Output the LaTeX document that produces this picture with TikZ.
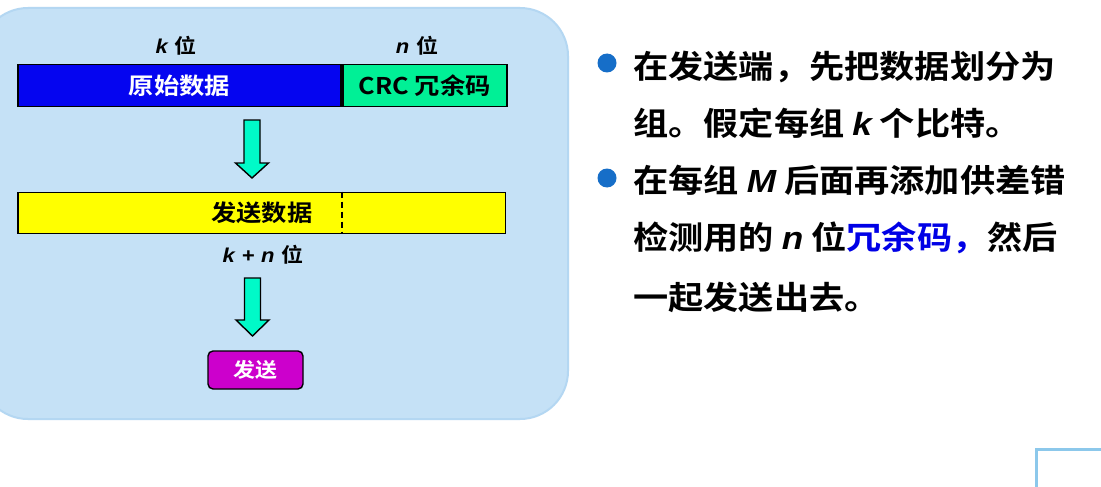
\documentclass[tikz,border=0pt]{standalone}
\usepackage{fontspec}
\newfontfamily\cjkfont{Noto Sans CJK SC}[BoldFont={Noto Sans CJK SC Bold}, FakeStretch=1.1]
\newfontfamily\latfont{Liberation Sans}[FakeStretch=1.1]
\usetikzlibrary{positioning, calc}

\definecolor{panelblue}{RGB}{197,225,246}
\definecolor{paneledge}{RGB}{180,215,242}
\definecolor{datablue}{RGB}{5,5,240}
\definecolor{crcgreen}{RGB}{0,240,150}
\definecolor{sendyellow}{RGB}{255,255,0}
\definecolor{sendmagenta}{RGB}{204,0,204}
\definecolor{arrowcyan}{RGB}{0,250,200}
\definecolor{dotblue}{RGB}{22,110,200}
\definecolor{textblue}{RGB}{0,0,230}
\definecolor{cornerblue}{RGB}{140,200,235}

\newcommand{\ital}[1]{{\latfont\bfseries\itshape #1}}

\begin{document}
\begin{tikzpicture}[
    x=1pt, y=-1pt,
    bar/.style={draw, line width=1.8pt, minimum height=42pt, inner sep=0pt, font=\cjkfont\bfseries\fontsize{23}{25}\selectfont, fill=#1},
    tag/.style={inner sep=0pt, font=\cjkfont\bfseries\fontsize{20}{22}\selectfont},
    fatarrow/.style={draw, line width=1.4pt, fill=arrowcyan, line join=miter},
    dot/.style={circle, fill=dotblue, minimum size=19pt, inner sep=0pt},
    line/.style={anchor=west, inner sep=0pt, font=\cjkfont\bfseries\fontsize{32}{36}\selectfont}
]
\useasboundingbox (0,0) rectangle (1101,487);
\fill[white] (0,0) rectangle (1101,487);

% Panel
\draw[fill=panelblue, draw=paneledge, line width=2pt, rounded corners=48pt] (-20,8) rectangle (568,419);

% Data and CRC
\node[bar=datablue, minimum width=323pt, text=white] (data) at (179.5,85.5) {原始数据};
\node[bar=crcgreen, minimum width=164pt, right=0pt of data] (crc) {CRC 冗余码};
\node[tag] (klab) at (176,46) {\ital{k}\,\,位};
\node[tag] (nlab) at (417,46) {\ital{n}\,\,位};

% Arrow down
\coordinate (a1) at (252,120);
\draw[fatarrow] (a1) ++(-8,0) -- ++(16,0) -- ++(0,43) -- ++(8.5,0) -- ++(-16.5,15) -- ++(-16.5,-15) -- ++(8.5,0) -- cycle;

% Frame to send
\node[bar=sendyellow, minimum width=487.5pt, minimum height=41pt] (frame) at (261.75,213) {发送数据};
\draw[line width=1.8pt, dash pattern=on 6pt off 4pt] (data.south east |- frame.north) -- (data.south east |- frame.south);
\node[tag] (knlab) at (263,255) {\ital{k\,\,+\,\,n}\,\,位};

% Arrow down
\coordinate (a2) at (252.5,278);
\draw[fatarrow] (a2) ++(-8,0) -- ++(16,0) -- ++(0,42) -- ++(8.5,0) -- ++(-16.5,16) -- ++(-16.5,-16) -- ++(8.5,0) -- cycle;

% Send
\node[draw, line width=1.4pt, rounded corners=5pt, fill=sendmagenta, text=white, minimum width=95pt, minimum height=38pt, inner sep=0pt, font=\cjkfont\bfseries\fontsize{20}{22}\selectfont] (send) at (255.5,370) {发送};

% Bullet text
\node[dot] (b1) at (607,63) {};
\node[line] (l1) at (633,67) {在发送端，先把数据划分为};
\node[line] (l2) at (633,123) {组。假定每组 \ital{k} 个比特。};
\node[dot] (b2) at (607,178) {};
\node[line] (l3) at (633,180) {在每组 \ital{M} 后面再添加供差错};
\node[line] (l4) at (633,238) {检测用的 \ital{n} 位\textcolor{textblue}{冗余码，}然后};
\node[line] (l5) at (633,297) {一起发送出去。};

% Corner box
\draw[cornerblue, line width=3pt] (1036,449) rectangle (1130,510);

\end{tikzpicture}
\end{document}
